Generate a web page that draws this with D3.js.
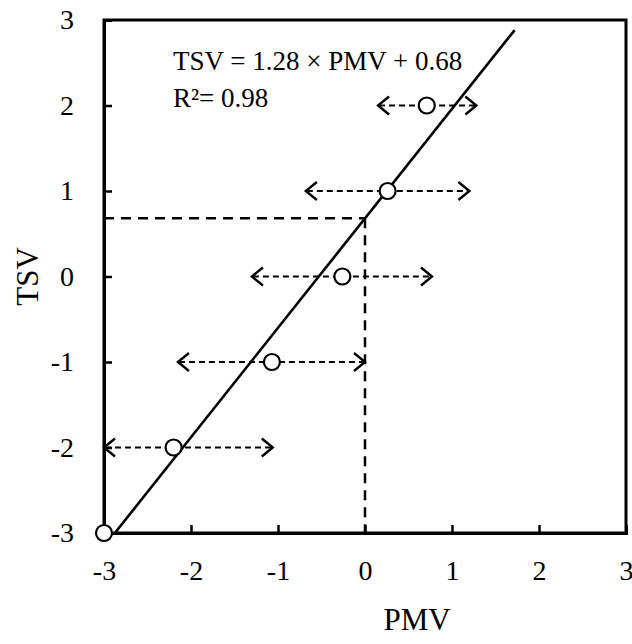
<!DOCTYPE html>
<html>
<head>
<meta charset="utf-8">
<script src="https://cdn.jsdelivr.net/npm/d3@7"></script>
<style>
  html, body { margin: 0; padding: 0; background: #fff; }
  svg { display: block; font-family: "Liberation Serif", "Times New Roman", serif; }
</style>
</head>
<body>
<svg id="chart" width="632" height="644"></svg>
<script>
// Mean thermal sensation votes against the corresponding mean PMV,
// with the PMV range for each vote drawn as a dashed double arrow.
const tsvVotes = [2, 1, 0, -1, -2, -3];
const pmvMean  = [0.71, 0.26, -0.26, -1.07, -2.20, -3.00];
const pmvLow   = [0.15, -0.68, -1.30, -2.15, -3.00, null];
const pmvHigh  = [1.28, 1.20, 0.77, 0.00, -1.06, null];

// Linear fit TSV = slope * PMV + intercept
const slope = 1.28;
const intercept = 0.68;
const rSquared = 0.98;
const fitRange = [(-3 - intercept) / slope, 1.72];

const tickValues = [-3, -2, -1, 0, 1, 2, 3];

const svg = d3.select("#chart");
const x = d3.scaleLinear().domain([-3, 3]).range([104, 626]);
const y = d3.scaleLinear().domain([-3, 3]).range([533, 20]);

// Frame around the plot area
svg.append("rect")
  .attr("x", x(-3)).attr("y", y(3))
  .attr("width", x(3) - x(-3)).attr("height", y(-3) - y(3))
  .attr("fill", "none").attr("stroke", "#000").attr("stroke-width", 3);

// Axes with inward ticks
const xAxis = svg.append("g")
  .attr("transform", `translate(0,${y(-3)})`)
  .call(d3.axisBottom(x).tickValues(tickValues).tickSize(-8).tickPadding(27)
    .tickFormat(d3.format("d")));
const yAxis = svg.append("g")
  .attr("transform", `translate(${x(-3)},0)`)
  .call(d3.axisLeft(y).tickValues(tickValues).tickSize(-8).tickPadding(30)
    .tickFormat(d3.format("d")));
[xAxis, yAxis].forEach(g => {
  g.select(".domain").attr("stroke-width", 3);
  g.selectAll(".tick line").attr("stroke-width", 2.5);
  g.selectAll(".tick text")
    .attr("font-family", "Liberation Serif, Times New Roman, serif")
    .attr("font-size", 28).attr("fill", "#000")
    .text(d => String(d).replace("\u2212", "-"));
  // the frame already marks both ends of each axis
  g.selectAll(".tick line").filter(d => d === -3 || d === 3).remove();
});

// Axis titles
svg.append("text")
  .attr("x", x(0) + 52).attr("y", 630)
  .attr("text-anchor", "middle").attr("font-size", 31).text("PMV");
svg.append("text")
  .attr("transform", `translate(38,${y(0)}) rotate(-90)`)
  .attr("text-anchor", "middle").attr("font-size", 31).text("TSV");

// Reference lines: fitted TSV at PMV = 0
const yAtZero = slope * 0 + intercept;
svg.append("line")
  .attr("x1", x(-3)).attr("x2", x(0))
  .attr("y1", y(yAtZero)).attr("y2", y(yAtZero))
  .attr("stroke", "#000").attr("stroke-width", 2.5).attr("stroke-dasharray", "10,7");
svg.append("line")
  .attr("x1", x(0)).attr("x2", x(0))
  .attr("y1", y(yAtZero)).attr("y2", y(-3))
  .attr("stroke", "#000").attr("stroke-width", 2.5).attr("stroke-dasharray", "10,7");

// PMV range arrows
const ranges = tsvVotes.map((t, i) => ({ t, lo: pmvLow[i], hi: pmvHigh[i] }))
  .filter(d => d.lo !== null);
const arrows = svg.append("g").attr("stroke", "#000").attr("fill", "none");
ranges.forEach(d => {
  const yy = y(d.t);
  arrows.append("line")
    .attr("x1", x(d.lo) + 1).attr("x2", x(d.hi) - 1)
    .attr("y1", yy).attr("y2", yy)
    .attr("stroke-width", 2.2).attr("stroke-dasharray", "6,4");
  arrows.append("path")
    .attr("d", `M${x(d.lo) + 11},${yy - 9}L${x(d.lo)},${yy}L${x(d.lo) + 11},${yy + 9}`)
    .attr("stroke-width", 2.4);
  arrows.append("path")
    .attr("d", `M${x(d.hi) - 11},${yy - 9}L${x(d.hi)},${yy}L${x(d.hi) - 11},${yy + 9}`)
    .attr("stroke-width", 2.4);
});

// Fitted line
svg.append("line")
  .attr("x1", x(fitRange[0])).attr("y1", y(slope * fitRange[0] + intercept))
  .attr("x2", x(fitRange[1])).attr("y2", y(slope * fitRange[1] + intercept))
  .attr("stroke", "#000").attr("stroke-width", 2.6);

// Mean points
svg.append("g").selectAll("circle")
  .data(tsvVotes.map((t, i) => ({ t, p: pmvMean[i] })))
  .join("circle")
  .attr("cx", d => x(d.p)).attr("cy", d => y(d.t)).attr("r", 8)
  .attr("fill", "#fff").attr("stroke", "#000").attr("stroke-width", 2.2);

// Regression equation
svg.append("text").attr("x", 173).attr("y", 70).attr("font-size", 27)
  .text(`TSV = ${slope.toFixed(2)} \u00d7 PMV + ${intercept.toFixed(2)}`);
svg.append("text").attr("x", 173).attr("y", 107).attr("font-size", 27)
  .text(`R\u00b2= ${rSquared.toFixed(2)}`);
</script>
</body>
</html>
